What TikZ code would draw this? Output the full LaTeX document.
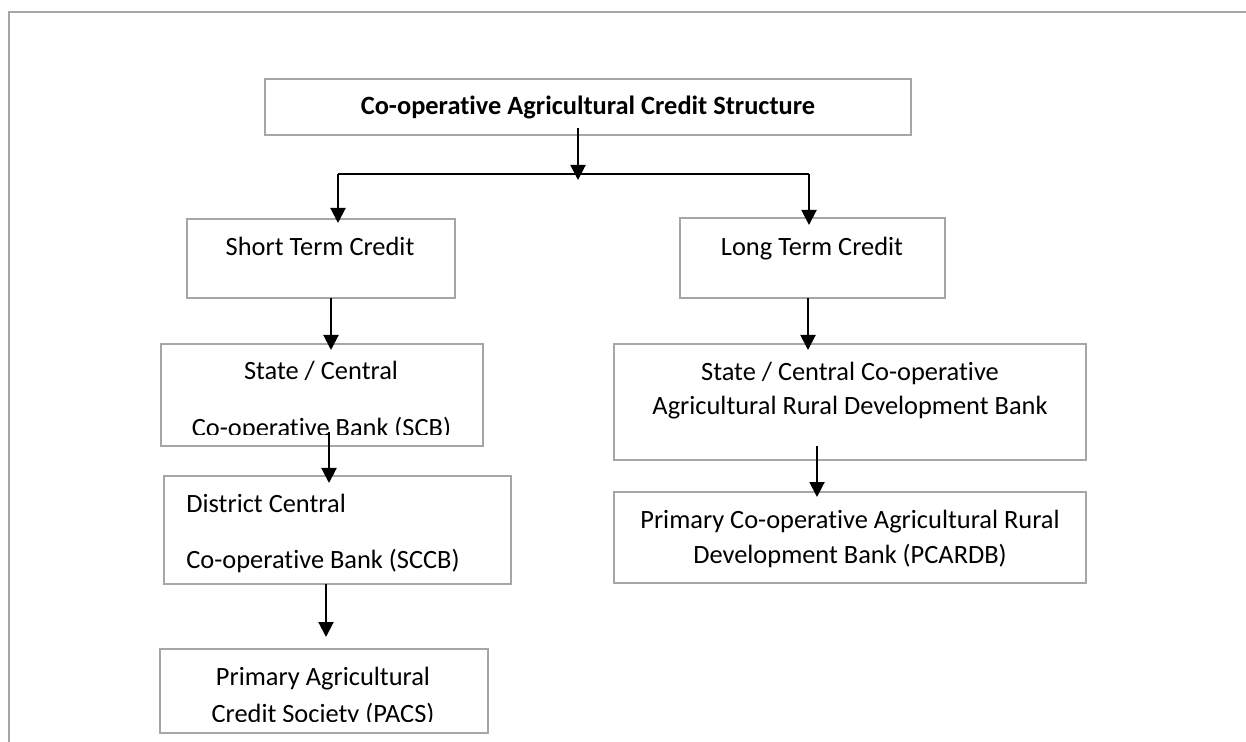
\documentclass[tikz,border=0pt]{standalone}
\usepackage{fontspec}
\setmainfont{Carlito}[Ligatures={NoCommon}]
\usetikzlibrary{arrows.meta}
\definecolor{boxgray}{HTML}{A6A6A6}
\begin{document}
\begin{tikzpicture}[x=0.5pt,y=-0.5pt,
  box/.style={draw=boxgray, line width=1pt, fill=white, inner sep=0pt, rectangle},
  lbl/.style={anchor=base, inner sep=0pt, font=\fontsize{13.2}{15}\selectfont},
  lblw/.style={anchor=base west, inner sep=0pt, font=\fontsize{13.2}{15}\selectfont},
  arr/.style={line width=1pt, -{Triangle[length=7.5pt,width=7.5pt]}},
  ln/.style={line width=1pt},
  frame/.style={draw=boxgray, line width=1.3pt}]
\useasboundingbox (0,0) rectangle (1246,742);
% outer frame
\coordinate (fl) at (9,742);
\coordinate (fc) at (9,12);
\coordinate (fr) at (1246,12);
\draw[frame] (fl) -- (fc) -- (fr);

% boxes
\node[box, minimum width=323pt, minimum height=28pt] (top) at (588,107) {};
\node[box, minimum width=134pt, minimum height=39.5pt] (short) at (321,258.5) {};
\node[box, minimum width=132.5pt, minimum height=40pt] (long) at (812.5,258) {};
\node[box, minimum width=161pt, minimum height=51pt] (scb) at (322,395) {};
\node[box, minimum width=173.5pt, minimum height=54pt] (dccb) at (337.5,530) {};
\node[box, minimum width=164pt, minimum height=42pt] (pacs) at (324,691) {};
\node[box, minimum width=236pt, minimum height=58pt] (scardb) at (850,402) {};
\node[box, minimum width=236pt, minimum height=45.5pt] (pcardb) at (850,537.5) {};

% texts
\node[lbl, font=\fontsize{13.2}{15}\selectfont\bfseries] (ttop) at (588,115) {Co-operative Agricultural Credit Structure};
\node[lbl] (tshort) at (320,256) {Short Term Credit};
\node[lbl] (tlong) at (812,256) {Long Term Credit};
\node[lbl] (tscb1) at (321,380) {State / Central};
\begin{scope}
\clip (150,340) rectangle (500,435);
\node[lbl] (tscb2) at (321.5,437) {Co-operative Bank (SCB)};
\end{scope}
\node[lblw] (tdccb1) at (186,512) {District Central};
\node[lblw] (tdccb2) at (186,568) {Co-operative Bank (SCCB)};
\node[lbl] (tpacs1) at (323,685) {Primary Agricultural};
\begin{scope}
\clip (150,640) rectangle (500,721);
\node[lbl] (tpacs2) at (323,722) {Credit Society (PACS)};
\end{scope}
\node[lbl] (tscardb1) at (850,381) {State / Central Co-operative};
\node[lbl] (tscardb2) at (850,415) {Agricultural Rural Development Bank};
\node[lbl] (tpcardb1) at (850,528) {Primary Co-operative Agricultural Rural};
\node[lbl] (tpcardb2) at (850,563) {Development Bank (PCARDB)};

% connector points
\coordinate (t0) at (578,128);
\coordinate (t1) at (578,180);
\coordinate (jl) at (338,174);
\coordinate (jr) at (809,174);
\coordinate (sl) at (338,223);
\coordinate (lr) at (809,225);
\coordinate (s0) at (331,298);
\coordinate (s1) at (331,350);
\coordinate (l0) at (808,298);
\coordinate (l1) at (808,350);
\coordinate (b0) at (329,432);
\coordinate (b1) at (329,483);
\coordinate (d0) at (326,584);
\coordinate (d1) at (326,637);
\coordinate (r0) at (817,446);
\coordinate (r1) at (817,497);

% connectors
\draw[arr] (t0) -- (t1);
\draw[ln] (jl) -- (jr);
\draw[arr] (jl) -- (sl);
\draw[arr] (jr) -- (lr);
\draw[arr] (s0) -- (s1);
\draw[arr] (l0) -- (l1);
\draw[arr] (b0) -- (b1);
\draw[arr] (d0) -- (d1);
\draw[arr] (r0) -- (r1);
\end{tikzpicture}
\end{document}
